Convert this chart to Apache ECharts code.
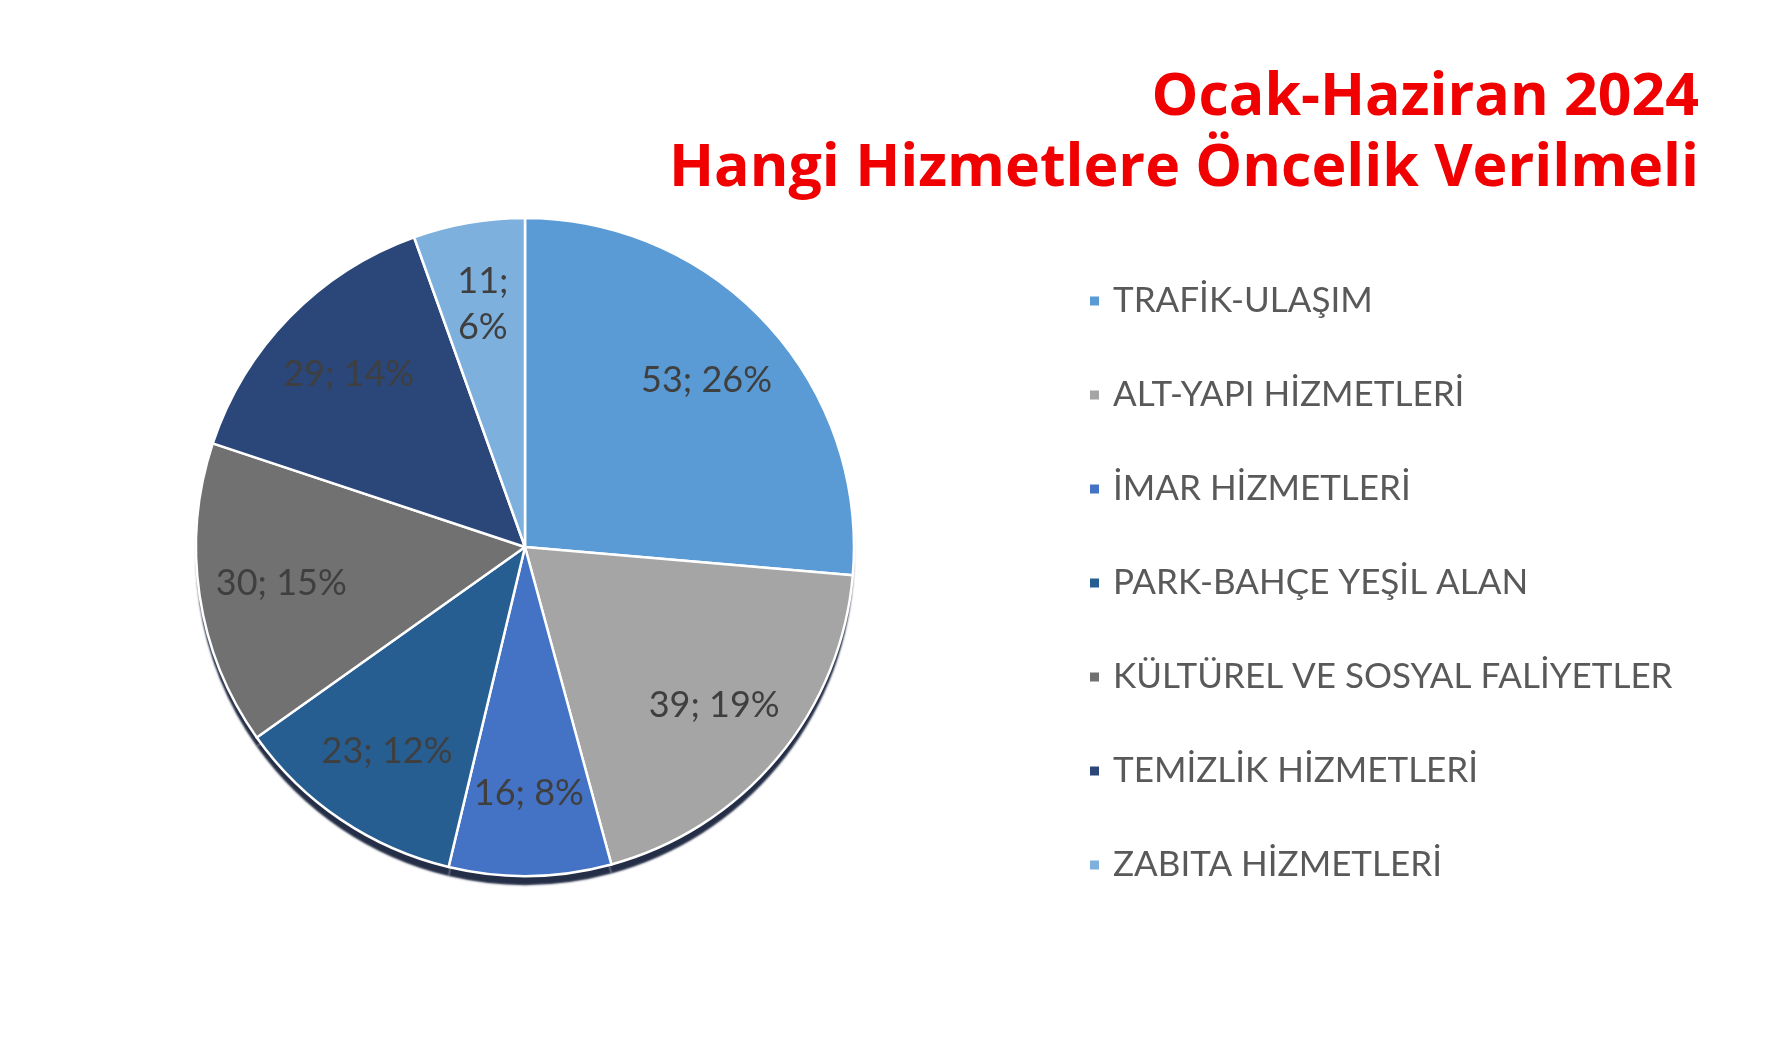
<!DOCTYPE html>
<html>
<head>
<meta charset="utf-8">
<script src="https://cdn.jsdelivr.net/npm/echarts@6/dist/echarts.min.js"></script>
<style>
html,body{margin:0;padding:0;background:#fff;}
#chart{width:1772px;height:1063px;}
</style>
</head>
<body>
<div id="chart"></div>
<script>
const titleLines = ['Ocak-Haziran 2024', 'Hangi Hizmetlere Öncelik Verilmeli'];
const categories = ['TRAFİK-ULAŞIM', 'ALT-YAPI HİZMETLERİ', 'İMAR HİZMETLERİ', 'PARK-BAHÇE YEŞİL ALAN', 'KÜLTÜREL VE SOSYAL FALİYETLER', 'TEMİZLİK HİZMETLERİ', 'ZABITA HİZMETLERİ'];
const values = [53, 39, 16, 23, 30, 29, 11];
const colors = ['#5B9BD5', '#A5A5A5', '#4472C4', '#275E91', '#717171', '#2B4678', '#7EB0DE'];

const chart = echarts.init(document.getElementById('chart'));
const pieData = categories.map((c, i) => ({ name: c, value: values[i], itemStyle: { color: colors[i] } }));
const R = 329;
const C = [525, 547];

const base = {
  type: 'pie',
  center: C,
  radius: [0, R],
  startAngle: 90,
  clockwise: true,
  label: { show: false },
  labelLine: { show: false },
  emphasis: { disabled: true }
};

chart.setOption({
  backgroundColor: '#ffffff',
  animation: false,
  color: colors,
  title: [
    { text: titleLines[0], right: 68, top: 63, textStyle: { color: '#F00000', fontFamily: 'Open Sans', fontWeight: 'bold', fontSize: 59, lineHeight: 60 } },
    { text: titleLines[1], right: 68, top: 134, textStyle: { color: '#F00000', fontFamily: 'Open Sans', fontWeight: 'bold', fontSize: 59, lineHeight: 60 } }
  ],
  legend: {
    orient: 'vertical',
    left: 1085,
    top: 276,
    icon: 'rect',
    itemWidth: 9,
    itemHeight: 9,
    itemGap: 54,
    data: categories,
    textStyle: { color: '#595959', fontFamily: 'Lato', fontSize: 35, lineHeight: 40, padding: [0, 0, 0, 9] },
    selectedMode: false
  },
  series: [
    Object.assign({}, base, {
      data: pieData,
      silent: true,
      itemStyle: { borderWidth: 0, shadowColor: 'rgba(18,28,55,0.92)', shadowOffsetY: 9, shadowBlur: 2 }
    }),
    Object.assign({}, base, {
      data: pieData,
      itemStyle: { borderColor: '#ffffff', borderWidth: 2.5 }
    }),
    Object.assign({}, base, {
      radius: [R * 0.48, R],
      silent: true,
      percentPrecision: 0,
      data: pieData.map(d => ({ name: d.name, value: d.value, itemStyle: { color: 'rgba(0,0,0,0)' } })),
      itemStyle: { borderWidth: 0 },
      label: {
        show: true,
        position: 'inside',
        color: '#3F3F3F',
        fontFamily: 'Lato',
        fontSize: 36,
        lineHeight: 46,
        formatter: p => p.percent < 7 ? p.value + ';\n' + p.percent + '%' : p.value + '; ' + p.percent + '%'
      }
    })
  ]
});
</script>
</body>
</html>
